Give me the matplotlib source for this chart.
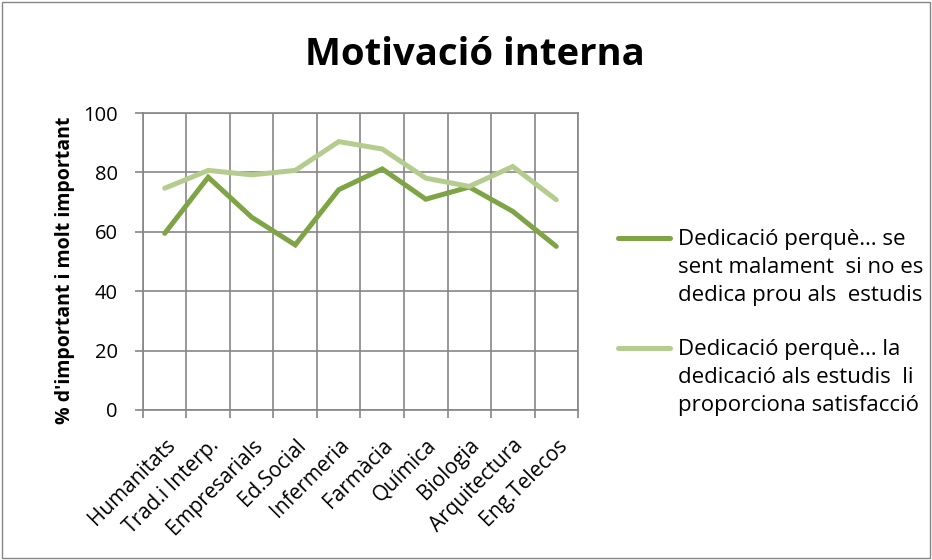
import matplotlib.pyplot as plt
import matplotlib.transforms as mtransforms
import numpy as np
from matplotlib.lines import Line2D
from matplotlib.patches import Rectangle

plt.rcParams["font.family"] = ["Open Sans", "DejaVu Sans"]

categories = ["Humanitats", "Trad.i Interp.", "Empresarials", "Ed.Social", "Infermeria",
              "Farmàcia", "Química", "Biologia", "Arquitectura", "Eng.Telecos"]
se_sent_malament = [59.5, 78.4, 64.9, 55.6, 74.2, 81.2, 71.0, 75.1, 66.9, 55.1]
satisfaccio = [74.7, 80.7, 79.2, 80.7, 90.4, 87.9, 78.1, 75.3, 82.0, 70.8]
labels = ["Dedicació perquè… se\nsent malament  si no es\ndedica prou als  estudis",
          "Dedicació perquè… la\ndedicació als estudis  li\nproporciona satisfacció"]
colors = ["#7FA446", "#B4CD8F"]

fig = plt.figure(figsize=(9.32, 5.6), dpi=100)
ax = fig.add_axes([0.1534, 0.268, 0.4668, 0.530])
x = np.arange(len(categories))
for vals, c, lab in zip([se_sent_malament, satisfaccio], colors, labels):
    ax.plot(x, vals, color=c, lw=3.6, label=lab, solid_capstyle="round", solid_joinstyle="miter")

ax.set_xlim(-0.5, len(categories) - 0.5)
ax.set_ylim(0, 100)
ax.set_yticks(range(0, 101, 20))
ax.set_xticks(x)
ax.set_xticklabels(categories, rotation=45, ha="right", rotation_mode="anchor", fontsize=15)
shift = mtransforms.ScaledTranslation(-20 / 72, 0, fig.dpi_scale_trans)
for t in ax.get_xticklabels():
    t.set_transform(t.get_transform() + shift)
ax.set_xticks(np.arange(-0.5, len(categories)), minor=True)
ax.tick_params(axis="x", which="major", length=0, pad=18)
ax.tick_params(axis="x", which="minor", length=6, color="#868686", width=1.2)
ax.tick_params(axis="y", length=6, color="#868686", width=1.2, labelsize=14.5, pad=12)
ax.grid(True, which="minor", axis="x", color="#868686", lw=1.2)
ax.grid(True, which="major", axis="y", color="#868686", lw=1.2)
ax.set_axisbelow(True)
for s in ax.spines.values():
    s.set_color("#868686")
    s.set_linewidth(1.2)
ax.set_ylabel("% d'important i molt important", fontsize=14, fontweight="bold", va="center")
ax.yaxis.set_label_coords(-0.180, 0.47)

fig.text(0.51, 0.901, "Motivació interna", ha="center", va="center", fontsize=27.5, fontweight="bold")

# legend, Excel style: the handle sits on the first line of each entry
for i, (c, lab) in enumerate(zip(colors, labels)):
    y_top = 0.591 - i * 0.196
    y_line = 1 - (238 + i * 110) / 560
    fig.add_artist(Line2D([0.663, 0.719], [y_line, y_line], transform=fig.transFigure,
                          color=c, lw=3.6, solid_capstyle="round"))
    fig.text(0.7275, y_top, lab, ha="left", va="top", fontsize=16, linespacing=1.45)

fig.patches.append(Rectangle((0.002, 0.003), 0.996, 0.994, transform=fig.transFigure,
                             fill=False, edgecolor="#868686", lw=1.0))
fig.savefig("out.png", dpi=100)
